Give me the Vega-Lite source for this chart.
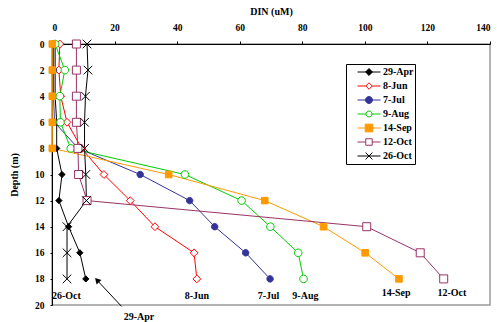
{
  "$schema": "https://vega.github.io/schema/vega-lite/v6.json",
  "width": 438,
  "height": 261,
  "autosize": "none",
  "padding": {"left": 52, "top": 44, "right": 7, "bottom": 17},
  "background": "white",
  "config": {
    "font": "Liberation Serif",
    "view": {"stroke": "#9a9a9a", "strokeWidth": 1.5},
    "axis": {
      "grid": false,
      "domainColor": "black",
      "domainWidth": 1,
      "tickColor": "black",
      "labelColor": "black",
      "titleColor": "black",
      "labelFont": "Liberation Serif",
      "titleFont": "Liberation Serif",
      "labelFontWeight": "bold",
      "titleFontWeight": "bold",
      "labelFontSize": 9.5,
      "titleFontSize": 10
    },
    "legend": {
      "symbolSize": 529,
      "clipHeight": 14,
      "padding": 1,
      "rowPadding": 0,
      "symbolOffset": 10,
      "labelOffset": 2,
      "strokeColor": "black",
      "fillColor": "white",
      "labelFont": "Liberation Serif",
      "labelFontWeight": "bold",
      "labelFontSize": 10,
      "labelColor": "black",
      "symbolStrokeWidth": 1,
      "symbolOpacity": 1
    }
  },
  "datasets": {
    "profiles": [
      {"series": "29-Apr", "depth": 0, "din": 1},
      {"series": "29-Apr", "depth": 2, "din": 1},
      {"series": "29-Apr", "depth": 4, "din": 1},
      {"series": "29-Apr", "depth": 6, "din": 1.5},
      {"series": "29-Apr", "depth": 8, "din": 1.5},
      {"series": "29-Apr", "depth": 10, "din": 3.2},
      {"series": "29-Apr", "depth": 12, "din": 2.2},
      {"series": "29-Apr", "depth": 14, "din": 5.3},
      {"series": "29-Apr", "depth": 16, "din": 8.9},
      {"series": "29-Apr", "depth": 18, "din": 10.8},
      {"series": "8-Jun", "depth": 0, "din": 2.5},
      {"series": "8-Jun", "depth": 2, "din": 2.2},
      {"series": "8-Jun", "depth": 4, "din": 2.8},
      {"series": "8-Jun", "depth": 6, "din": 4.8},
      {"series": "8-Jun", "depth": 8, "din": 9.5},
      {"series": "8-Jun", "depth": 10, "din": 16.6},
      {"series": "8-Jun", "depth": 12, "din": 25.0},
      {"series": "8-Jun", "depth": 14, "din": 32.9},
      {"series": "8-Jun", "depth": 16, "din": 45.4},
      {"series": "8-Jun", "depth": 18, "din": 46.3},
      {"series": "7-Jul", "depth": 0, "din": 0.5},
      {"series": "7-Jul", "depth": 2, "din": 0.5},
      {"series": "7-Jul", "depth": 4, "din": 0.5},
      {"series": "7-Jul", "depth": 6, "din": 0.8},
      {"series": "7-Jul", "depth": 8, "din": 8.4},
      {"series": "7-Jul", "depth": 10, "din": 28.2},
      {"series": "7-Jul", "depth": 12, "din": 44.0},
      {"series": "7-Jul", "depth": 14, "din": 52.0},
      {"series": "7-Jul", "depth": 16, "din": 61.9},
      {"series": "7-Jul", "depth": 18, "din": 69.7},
      {"series": "9-Aug", "depth": 0, "din": 1.0},
      {"series": "9-Aug", "depth": 2, "din": 4.1},
      {"series": "9-Aug", "depth": 4, "din": 2.5},
      {"series": "9-Aug", "depth": 6, "din": 2.7},
      {"series": "9-Aug", "depth": 8, "din": 6.0},
      {"series": "9-Aug", "depth": 10, "din": 42.5},
      {"series": "9-Aug", "depth": 12, "din": 60.6},
      {"series": "9-Aug", "depth": 14, "din": 69.8},
      {"series": "9-Aug", "depth": 16, "din": 78.7},
      {"series": "9-Aug", "depth": 18, "din": 80.4},
      {"series": "14-Sep", "depth": 0, "din": 0.1},
      {"series": "14-Sep", "depth": 2, "din": 0.1},
      {"series": "14-Sep", "depth": 4, "din": 0.1},
      {"series": "14-Sep", "depth": 6, "din": 0.1},
      {"series": "14-Sep", "depth": 8, "din": 0.1},
      {"series": "14-Sep", "depth": 10, "din": 37.3},
      {"series": "14-Sep", "depth": 12, "din": 68.0},
      {"series": "14-Sep", "depth": 14, "din": 86.8},
      {"series": "14-Sep", "depth": 16, "din": 100.1},
      {"series": "14-Sep", "depth": 18, "din": 110.9},
      {"series": "12-Oct", "depth": 0, "din": 7.8},
      {"series": "12-Oct", "depth": 2, "din": 7.8},
      {"series": "12-Oct", "depth": 4, "din": 7.8},
      {"series": "12-Oct", "depth": 6, "din": 7.8},
      {"series": "12-Oct", "depth": 8, "din": 8.3},
      {"series": "12-Oct", "depth": 10, "din": 8.5},
      {"series": "12-Oct", "depth": 12, "din": 11.2},
      {"series": "12-Oct", "depth": 14, "din": 100.6},
      {"series": "12-Oct", "depth": 16, "din": 117.7},
      {"series": "12-Oct", "depth": 18, "din": 125.2},
      {"series": "26-Oct", "depth": 0, "din": 11.2},
      {"series": "26-Oct", "depth": 2, "din": 11.5},
      {"series": "26-Oct", "depth": 4, "din": 10.7},
      {"series": "26-Oct", "depth": 6, "din": 10.4},
      {"series": "26-Oct", "depth": 8, "din": 10.4},
      {"series": "26-Oct", "depth": 10, "din": 10.8},
      {"series": "26-Oct", "depth": 12, "din": 11.0},
      {"series": "26-Oct", "depth": 14, "din": 4.8},
      {"series": "26-Oct", "depth": 16, "din": 4.8},
      {"series": "26-Oct", "depth": 18, "din": 4.8}
    ],
    "labels": [
      {"label": "26-Oct", "din": 4.6, "depth": 19.3},
      {"label": "8-Jun", "din": 46.3, "depth": 19.3},
      {"label": "7-Jul", "din": 69.2, "depth": 19.3},
      {"label": "9-Aug", "din": 81.0, "depth": 19.3},
      {"label": "14-Sep", "din": 110.0, "depth": 19.06},
      {"label": "12-Oct", "din": 127.8, "depth": 19.06},
      {"label": "29-Apr", "din": 27.8, "depth": 20.95}
    ],
    "arrow": [
      {"din": 22.2, "depth": 20.1, "din2": 14.4, "depth2": 18.1}
    ]
  },
  "layer": [
    {
      "data": {"name": "profiles"},
      "mark": {"type": "line", "strokeWidth": 1},
      "encoding": {
        "x": {
          "field": "din", "type": "quantitative",
          "scale": {"domain": [0, 140], "nice": false, "zero": false},
          "axis": {
            "orient": "top", "title": "DIN (uM)",
            "values": [0, 20, 40, 60, 80, 100, 120, 140],
            "tickCount": 20,
            "labelOverlap": false,
            "tickSize": 3, "labelPadding": 9, "titlePadding": 6
          }
        },
        "y": {
          "field": "depth", "type": "quantitative",
          "scale": {"domain": [0, 20], "reverse": true, "nice": false, "zero": false},
          "axis": {
            "title": "Depth (m)",
            "values": [0, 2, 4, 6, 8, 10, 12, 14, 16, 18, 20],
            "tickCount": 20,
            "labelOverlap": false,
            "labelFlush": false,
            "tickSize": 2, "labelPadding": 6, "titlePadding": 15
          }
        },
        "stroke": {
          "field": "series", "type": "nominal",
          "scale": {
            "domain": ["29-Apr", "8-Jun", "7-Jul", "9-Aug", "14-Sep", "12-Oct", "26-Oct"],
            "range": ["#000000", "#ff0000", "#333399", "#00cc00", "#ff9900", "#993366", "#000000"]
          },
          "legend": null
        },
        "order": {"field": "depth", "type": "quantitative"}
      }
    },
    {
      "data": {"name": "profiles"},
      "mark": {"type": "point", "filled": false, "size": 100, "opacity": 1, "strokeWidth": 1},
      "encoding": {
        "x": {"field": "din", "type": "quantitative"},
        "y": {"field": "depth", "type": "quantitative"},
        "shape": {
          "field": "series", "type": "nominal",
          "scale": {
            "domain": ["29-Apr", "8-Jun", "7-Jul", "9-Aug", "14-Sep", "12-Oct", "26-Oct"],
            "range": [
              "M0,-0.62L0.62,0L0,0.62L-0.62,0Z",
              "M0,-0.78L0.78,0L0,0.78L-0.78,0Z",
              "M0.64,0A0.64 0.64 0 1 1 -0.64,0A0.64 0.64 0 1 1 0.64,0Z",
              "M0.76,0A0.76 0.76 0 1 1 -0.76,0A0.76 0.76 0 1 1 0.76,0Z",
              "M-0.66,-0.66L0.66,-0.66L0.66,0.66L-0.66,0.66Z",
              "M-0.8,-0.8L0.8,-0.8L0.8,0.8L-0.8,0.8Z",
              "M-0.86,-0.86L0.86,0.86M0.86,-0.86L-0.86,0.86"
            ]
          },
          "legend": null
        },
        "stroke": {
          "field": "series", "type": "nominal",
          "scale": {
            "domain": ["29-Apr", "8-Jun", "7-Jul", "9-Aug", "14-Sep", "12-Oct", "26-Oct"],
            "range": ["#000000", "#ff0000", "#333399", "#00cc00", "#ff9900", "#993366", "#000000"]
          },
          "legend": null
        },
        "fill": {
          "field": "series", "type": "nominal",
          "scale": {
            "domain": ["29-Apr", "8-Jun", "7-Jul", "9-Aug", "14-Sep", "12-Oct", "26-Oct"],
            "range": ["#000000", "#ffffff", "#333399", "#ffffff", "#ff9900", "#ffffff", "transparent"]
          },
          "legend": null
        }
      }
    },
    {
      "data": {"name": "profiles"},
      "transform": [{"filter": "datum.depth > 100"}],
      "mark": {"type": "point", "filled": false, "size": 529, "opacity": 1, "strokeWidth": 1},
      "encoding": {
        "x": {"field": "din", "type": "quantitative"},
        "y": {"field": "depth", "type": "quantitative"},
        "shape": {
          "field": "series", "type": "nominal",
          "scale": {
            "domain": ["29-Apr", "8-Jun", "7-Jul", "9-Aug", "14-Sep", "12-Oct", "26-Oct"],
            "range": [
              "M-1,0L1,0M0,-0.3L0.3,0L0,0.3L-0.3,0Z",
              "M-1,0L-0.28,0M0.28,0L1,0M0,-0.28L0.28,0L0,0.28L-0.28,0Z",
              "M-1,0L1,0M0.3,0A0.3 0.3 0 1 1 -0.3,0A0.3 0.3 0 1 1 0.3,0Z",
              "M-1,0L-0.26,0M0.26,0L1,0M0.26,0A0.26 0.26 0 1 1 -0.26,0A0.26 0.26 0 1 1 0.26,0Z",
              "M-1,0L1,0M-0.33,-0.33L0.33,-0.33L0.33,0.33L-0.33,0.33Z",
              "M-1,0L-0.28,0M0.28,0L1,0M-0.28,-0.28L0.28,-0.28L0.28,0.28L-0.28,0.28Z",
              "M-1,0L1,0M-0.3,-0.3L0.3,0.3M0.3,-0.3L-0.3,0.3"
            ]
          },
          "legend": {"title": null, "orient": "none", "legendX": 294, "legendY": 20}
        },
        "stroke": {
          "field": "series", "type": "nominal",
          "scale": {
            "domain": ["29-Apr", "8-Jun", "7-Jul", "9-Aug", "14-Sep", "12-Oct", "26-Oct"],
            "range": ["#000000", "#ff0000", "#333399", "#00cc00", "#ff9900", "#993366", "#000000"]
          },
          "legend": {"title": null, "orient": "none", "legendX": 294, "legendY": 20}
        },
        "fill": {
          "field": "series", "type": "nominal",
          "scale": {
            "domain": ["29-Apr", "8-Jun", "7-Jul", "9-Aug", "14-Sep", "12-Oct", "26-Oct"],
            "range": ["#000000", "#ffffff", "#333399", "#ffffff", "#ff9900", "#ffffff", "transparent"]
          },
          "legend": {"title": null, "orient": "none", "legendX": 294, "legendY": 20}
        }
      }
    },
    {
      "data": {"name": "labels"},
      "mark": {"type": "text", "font": "Liberation Serif", "fontWeight": "bold", "fontSize": 10, "color": "black", "align": "center", "baseline": "middle"},
      "encoding": {
        "x": {"field": "din", "type": "quantitative"},
        "y": {"field": "depth", "type": "quantitative"},
        "text": {"field": "label", "type": "nominal"}
      }
    },
    {
      "data": {"name": "arrow"},
      "mark": {"type": "rule", "color": "black", "strokeWidth": 1},
      "encoding": {
        "x": {"field": "din", "type": "quantitative"},
        "y": {"field": "depth", "type": "quantitative"},
        "x2": {"field": "din2"},
        "y2": {"field": "depth2"}
      }
    },
    {
      "data": {"name": "arrow"},
      "mark": {"type": "point", "shape": "triangle-up", "filled": true, "color": "black", "opacity": 1, "size": 45, "angle": 317},
      "encoding": {
        "x": {"field": "din2", "type": "quantitative"},
        "y": {"field": "depth2", "type": "quantitative"}
      }
    }
  ],
  "resolve": {"scale": {"shape": "independent", "stroke": "independent", "fill": "independent"}}
}
